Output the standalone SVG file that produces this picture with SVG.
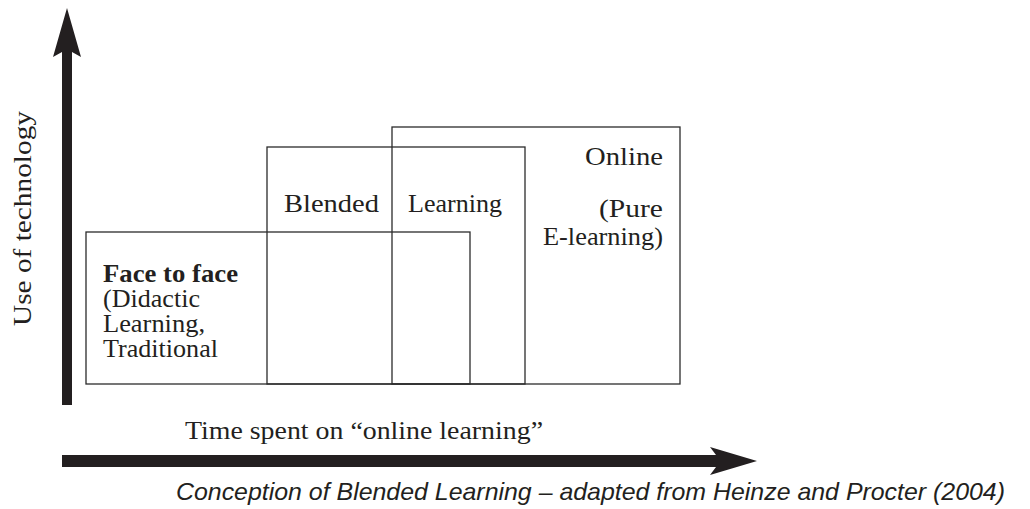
<svg xmlns="http://www.w3.org/2000/svg" width="1030" height="509" viewBox="0 0 1030 509">
  <style>
    .box { fill: none; stroke: #2b2b2b; stroke-width: 1.3; }
    .lbl { font-family: "Liberation Serif", "Times New Roman", Times, serif; font-size: 26px; fill: #231f20; }
    .sm { font-size: 25px; }
    .bold { font-weight: bold; }
    .cap { font-family: "Liberation Sans", Arial, Helvetica, sans-serif; font-style: italic; font-size: 24px; fill: #231f20; }
    .axis { fill: #231f20; stroke: none; }
  </style>
  <rect width="1030" height="509" fill="#ffffff"/>

  <g id="connectors">
    <polygon class="axis" points="67,8 81,57 72,52 72,405 62,405 62,52 53,57"/>
    <polygon class="axis" points="757,461 710,475 716,467 62,467 62,455 716,455 710,447"/>
  </g>

  <g id="node-face-to-face">
    <rect class="box" x="86" y="232" width="384" height="152"/>
    <text class="lbl bold sm" x="103" y="282" textLength="135" lengthAdjust="spacingAndGlyphs">Face to face</text>
    <text class="lbl sm" x="103" y="307" textLength="97" lengthAdjust="spacingAndGlyphs">(Didactic</text>
    <text class="lbl sm" x="103" y="332" textLength="102" lengthAdjust="spacingAndGlyphs">Learning,</text>
    <text class="lbl sm" x="103" y="357" textLength="115" lengthAdjust="spacingAndGlyphs">Traditional</text>
  </g>

  <g id="node-blended">
    <rect class="box" x="267" y="147" width="258" height="237"/>
    <text class="lbl" x="284" y="212" textLength="95" lengthAdjust="spacingAndGlyphs">Blended</text>
    <text class="lbl" x="408" y="212" textLength="94" lengthAdjust="spacingAndGlyphs">Learning</text>
  </g>

  <g id="node-online">
    <rect class="box" x="392" y="127" width="288" height="257"/>
    <text class="lbl" x="585" y="165" textLength="78" lengthAdjust="spacingAndGlyphs">Online</text>
    <text class="lbl" x="599" y="217" textLength="64" lengthAdjust="spacingAndGlyphs">(Pure</text>
    <text class="lbl" x="543" y="245" textLength="120" lengthAdjust="spacingAndGlyphs">E-learning)</text>
  </g>

  <g id="axis-labels">
    <text class="lbl" transform="translate(31,326) rotate(-90)" x="0" y="0" textLength="215" lengthAdjust="spacingAndGlyphs">Use of technology</text>
    <text class="lbl" x="185" y="439" textLength="358" lengthAdjust="spacingAndGlyphs">Time spent on “online learning”</text>
  </g>

  <text class="cap" x="176" y="500" textLength="829" lengthAdjust="spacingAndGlyphs">Conception of Blended Learning – adapted from Heinze and Procter (2004)</text>
</svg>
